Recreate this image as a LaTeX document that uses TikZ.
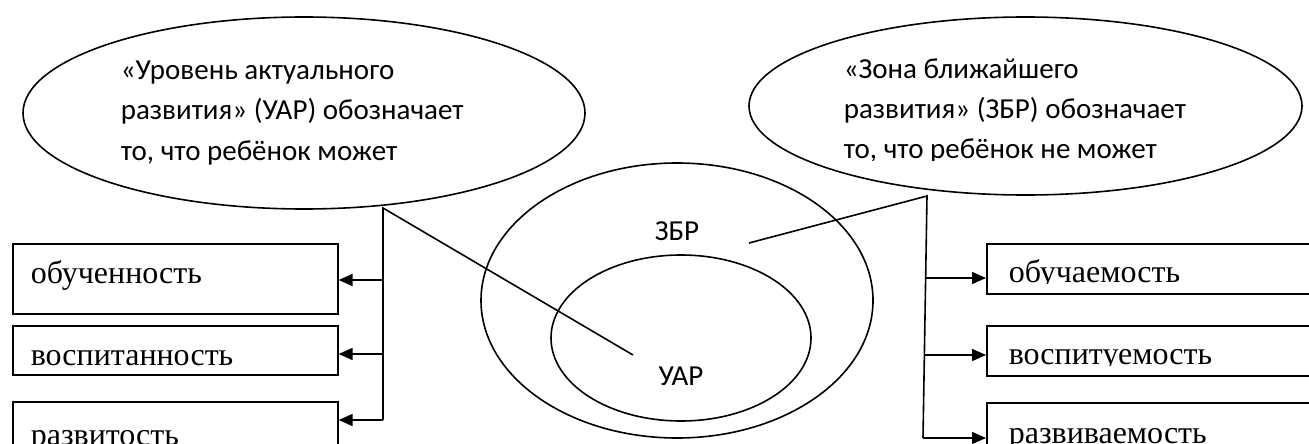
\documentclass[tikz,border=0pt]{standalone}
\usepackage{fontspec}
\setmainfont{Liberation Serif}
\newfontfamily\calib{Carlito}
\usetikzlibrary{shapes.geometric,arrows.meta}
\begin{document}
\begin{tikzpicture}[x=1pt,y=-1pt,
  line width=1.6pt,
  oval/.style={draw,ellipse,inner sep=0pt},
  box/.style={draw,rectangle,inner sep=0pt,anchor=north west},
  etext/.style={anchor=base west,inner sep=0pt,font=\calib\fontsize{29}{33}\selectfont},
  ctext/.style={inner sep=0pt,font=\calib\fontsize{29}{33}\selectfont},
  btext/.style={anchor=base west,inner sep=0pt,font=\fontsize{32}{36}\selectfont},
  arr/.style={-{Triangle[length=14pt,width=12pt]}}]
\clip (0,0) rectangle (1309,444);
% ellipses
\node[oval,minimum width=562pt,minimum height=192pt] (E1) at (304,113) {};
\node[oval,minimum width=553pt,minimum height=178pt] (E2) at (1025.5,106) {};
\node[oval,minimum width=392pt,minimum height=275pt] (ZBR) at (677,300.5) {};
\node[oval,minimum width=260pt,minimum height=166pt] (UAR) at (681,338) {};
% ellipse texts
\node[etext] (t11) at (120,80) {«Уровень актуального};
\node[etext] (t12) at (120,119) {развития» (УАР) обозначает};
\node[etext] (t13) at (120,160) {то, что ребёнок может};
\node[etext] (t21) at (843,78) {«Зона ближайшего};
\node[etext] (t22) at (843,118) {развития» (ЗБР) обозначает};
\begin{scope}
\clip (800,130) rectangle (1250,160);
\node[etext] (t23) at (843,158) {то, что ребёнок не может};
\end{scope}
\node[ctext] (lz) at (677,231) {ЗБР};
\node[ctext] (lu) at (681,376) {УАР};
% boxes
\node[box,minimum width=325pt,minimum height=70pt] (L1) at (12,243) {};
\node[box,minimum width=325pt,minimum height=49pt] (L2) at (12,325) {};
\node[box,minimum width=325pt,minimum height=70pt] (L3) at (12,401) {};
\node[box,minimum width=340pt,minimum height=50pt] (R1) at (986,243) {};
\node[box,minimum width=340pt,minimum height=50pt] (R2) at (986,325) {};
\node[box,minimum width=340pt,minimum height=70pt] (R3) at (986,402) {};
\node[btext] (bl1) at (30,283) {обученность};
\node[btext] (bl2) at (30,365) {воспитанность};
\node[btext] (bl3) at (30,445) {развитость};
\begin{scope}
\clip (990,250) rectangle (1309,283.5);
\node[btext] (br1) at (1008,282) {обучаемость};
\end{scope}
\begin{scope}
\clip (990,330) rectangle (1309,365.5);
\node[btext] (br2) at (1008,364) {воспитуемость};
\end{scope}
\node[btext] (br3) at (1008,443) {развиваемость};
% left connectors
\coordinate (lc) at (383,208);
\coordinate (lend) at (633,355);
\coordinate (lb1) at (383,280);
\coordinate (lb2) at (383,354);
\coordinate (lb3) at (383,420);
\draw (lend) -- (lc) -- (lb3);
\draw[arr] (lb1) -- (lb1 -| L1.east);
\draw[arr] (lb2) -- (lb2 -| L2.east);
\draw[arr] (lb3) -- (lb3 -| L3.east);
% right connectors
\coordinate (rc) at (927,196);
\coordinate (rend) at (749,243);
\coordinate (rb1) at (926,278);
\coordinate (rb2) at (925,355);
\coordinate (rb3) at (923,438);
\draw (rend) -- (rc) -- (rb3);
\draw[arr] (rb1) -- (rb1 -| R1.west);
\draw[arr] (rb2) -- (rb2 -| R2.west);
\draw[arr] (rb3) -- (rb3 -| R3.west);
\end{tikzpicture}
\end{document}
